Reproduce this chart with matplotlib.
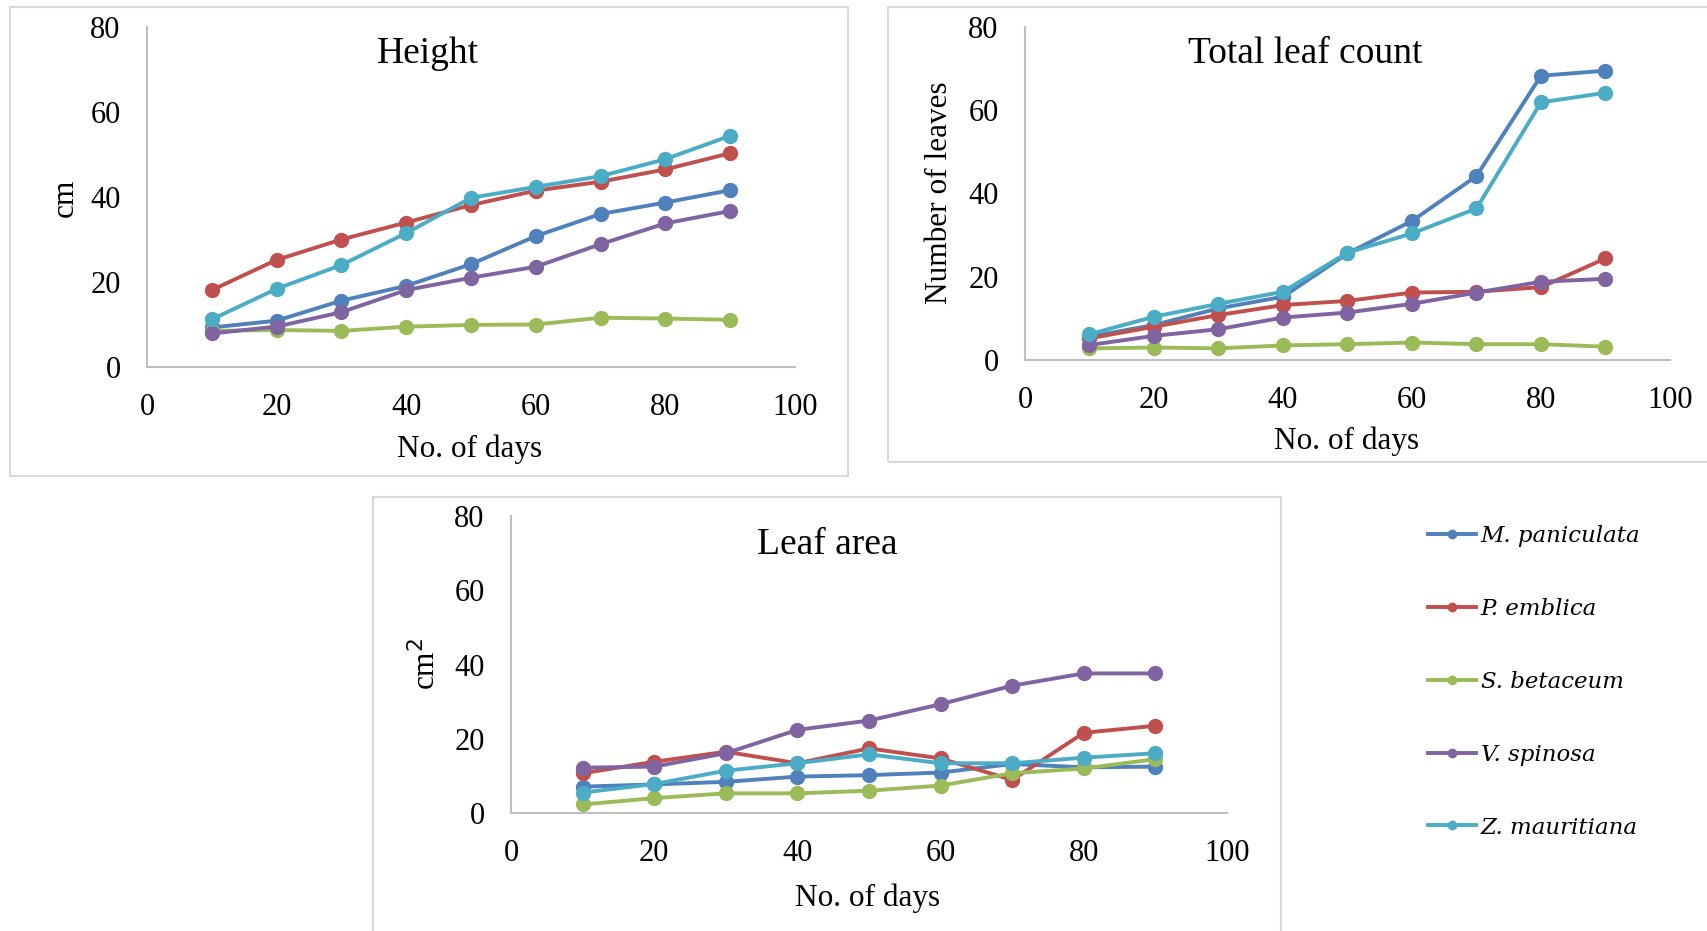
import matplotlib
matplotlib.use('Agg')
import matplotlib.pyplot as plt
from matplotlib.patches import Rectangle
from matplotlib.lines import Line2D

# data
days = [10, 20, 30, 40, 50, 60, 70, 80, 90]
species = ["M. paniculata", "P. emblica", "S. betaceum", "V. spinosa", "Z. mauritiana"]
colors = ["#4F81BD", "#C0504D", "#9BBB59", "#8064A2", "#4BACC6"]

height_mp = [9.3, 10.9, 15.6, 19.1, 24.2, 30.8, 36.0, 38.7, 41.6]
height_pe = [18.1, 25.2, 30.0, 34.0, 38.1, 41.5, 43.6, 46.5, 50.3]
height_sb = [8.5, 8.7, 8.5, 9.5, 9.9, 10.0, 11.6, 11.4, 11.1]
height_vs = [7.9, 9.5, 12.9, 18.1, 21.0, 23.6, 28.9, 33.8, 36.7]
height_zm = [11.2, 18.4, 24.0, 31.5, 39.8, 42.4, 44.9, 48.9, 54.4]

leaves_mp = [5.6, 8.4, 12.4, 15.2, 25.6, 33.4, 44.2, 68.3, 69.5]
leaves_pe = [5.2, 8.0, 10.8, 13.2, 14.2, 16.2, 16.4, 17.5, 24.4]
leaves_sb = [2.8, 3.0, 2.8, 3.5, 3.8, 4.2, 3.8, 3.8, 3.2]
leaves_vs = [3.6, 5.8, 7.4, 10.2, 11.4, 13.5, 16.2, 18.8, 19.5]
leaves_zm = [6.2, 10.4, 13.5, 16.4, 25.8, 30.4, 36.4, 61.9, 64.2]

area_mp = [7.1, 7.7, 8.4, 9.8, 10.2, 10.9, 13.2, 12.3, 12.5]
area_pe = [10.7, 13.8, 16.5, 13.4, 17.4, 14.7, 8.9, 21.6, 23.5]
area_sb = [2.3, 4.0, 5.3, 5.3, 6.0, 7.4, 10.7, 12.0, 14.5]
area_vs = [12.2, 12.5, 16.1, 22.4, 24.9, 29.3, 34.3, 37.6, 37.6]
area_zm = [5.5, 7.8, 11.4, 13.4, 15.8, 13.4, 13.4, 14.9, 16.1]

W, H = 1708, 931
fig = plt.figure(figsize=(W / 100, H / 100), dpi=100)
plt.rcParams['font.family'] = ['Liberation Serif', 'DejaVu Serif']


def fx(x):
    return x / W


def fy(y):
    return 1 - y / H


def box(x0, y0, x1, y1):
    fig.patches.append(Rectangle((fx(x0), fy(y1)), fx(x1) - fx(x0), fy(y0) - fy(y1),
                                 transform=fig.transFigure, fill=False,
                                 edgecolor="#D9D9D9", linewidth=1.5))


def panel(l, t, r, b, series, title, tpos, ylabel, ypos, xpos):
    ax = fig.add_axes([fx(l), fy(b), fx(r) - fx(l), fy(t) - fy(b)])
    for vals, c in zip(series, colors):
        ax.plot(days, vals, color=c, linewidth=2.8, marker='o', markersize=10,
                clip_on=False)
    ax.set_xlim(0, 100)
    ax.set_ylim(0, 80)
    ax.set_xticks(range(0, 101, 20))
    ax.set_yticks(range(0, 81, 20))
    for s in ['top', 'right']:
        ax.spines[s].set_visible(False)
    for s in ['left', 'bottom']:
        ax.spines[s].set_color("#BFBFBF")
        ax.spines[s].set_linewidth(1.5)
    ax.tick_params(length=0, labelsize=22, pad=19)
    fig.text(fx(tpos[0]), fy(tpos[1]), title, fontsize=27, ha='center', va='center')
    fig.text(fx(ypos[0]), fy(ypos[1]), ylabel, fontsize=22.5, ha='center', va='center',
             rotation=90)
    fig.text(fx(xpos[0]), fy(xpos[1]), "No. of days", fontsize=22.5, ha='center',
             va='center')
    return ax


box(10, 7, 848, 476)
box(888, 7, 1715, 462)
box(373, 497, 1281, 940)

panel(147, 27, 795, 367,
      [height_mp, height_pe, height_sb, height_vs, height_zm],
      "Height", (428, 54), "cm", (65, 198), (470, 449))
panel(1025, 27, 1670, 360,
      [leaves_mp, leaves_pe, leaves_sb, leaves_vs, leaves_zm],
      "Total leaf count", (1305, 54), "Number of leaves", (940, 193), (1347, 441))
panel(511, 516, 1227, 813,
      [area_mp, area_pe, area_sb, area_vs, area_zm],
      "Leaf area", (827, 545), "cm$^2$", (426, 664), (868, 898))

handles = [Line2D([], [], color=c, linewidth=2.8, marker='o', markersize=6)
           for c in colors]
fig.legend(handles, species, loc='upper left',
           bbox_to_anchor=(fx(1428), fy(525)), frameon=False, borderpad=0,
           borderaxespad=0, handlelength=2.1, handletextpad=0.2,
           labelspacing=2.22, prop={'family': 'DejaVu Serif', 'style': 'italic',
                                    'size': 16.5})

fig.savefig("out.png", dpi=100)
plt.close(fig)
